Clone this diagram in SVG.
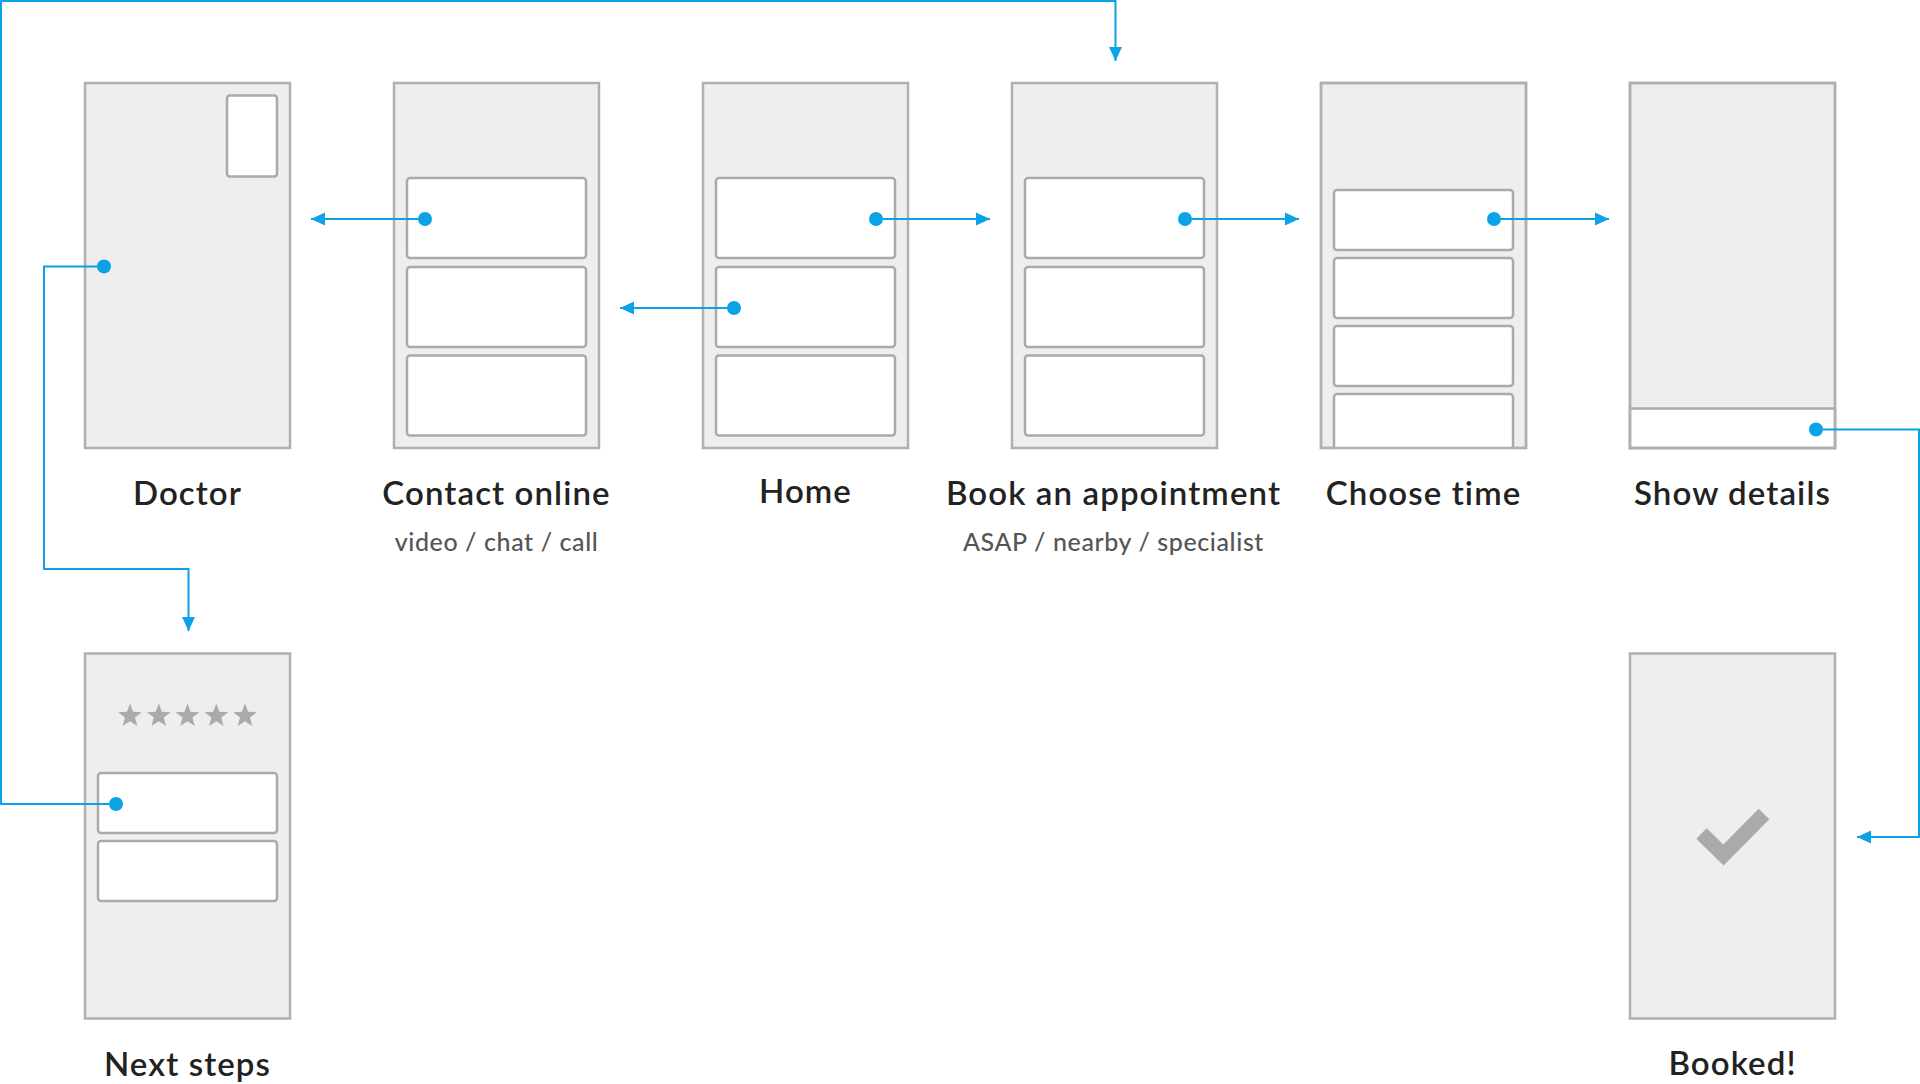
<svg xmlns="http://www.w3.org/2000/svg" width="1920" height="1084" viewBox="0 0 1920 1084">
<style>
.phone{fill:#eeeeee;stroke:#b0b0b0;stroke-width:2.5}
.outline{fill:none;stroke:#b0b0b0;stroke-width:2.5}
.item{fill:#ffffff;stroke:#aaaaaa;stroke-width:2.5}
.title{font-family:Lato,"Liberation Sans",sans-serif;font-size:33px;font-weight:600;letter-spacing:1.1px;fill:#222222;text-anchor:middle}
.sub{font-family:Lato,"Liberation Sans",sans-serif;font-size:25px;font-weight:500;letter-spacing:0.6px;fill:#555555;text-anchor:middle}
.conn{fill:none;stroke:#0ba2e8;stroke-width:2}
.dot{fill:#0ba2e8}
.star{fill:#aaaaaa}
</style>
<defs>
<marker id="arr" markerUnits="userSpaceOnUse" markerWidth="14" markerHeight="14" refX="14" refY="7" orient="auto" viewBox="0 0 14 14">
<path d="M0,0.5 L14,7 L0,13.5 Z" fill="#0ba2e8"/>
</marker>
<polygon id="star" points="0,-12.5 3.06,-4.21 11.89,-3.86 4.95,1.61 7.35,10.11 0,5.2 -7.35,10.11 -4.95,1.61 -11.89,-3.86 -3.06,-4.21"/>
</defs>
<rect width="1920" height="1084" fill="#ffffff"/>

<g id="doctor">
<rect class="phone" x="85" y="83" width="205" height="365"/>
<rect class="item" x="227" y="95.5" width="50" height="81" rx="3"/>
<text class="title" x="187.5" y="505">Doctor</text>
</g>

<g id="contact-online">
<rect class="phone" x="394" y="83" width="205" height="365"/>
<rect class="item" x="407" y="178" width="179" height="80" rx="3"/>
<rect class="item" x="407" y="267" width="179" height="80" rx="3"/>
<rect class="item" x="407" y="355.5" width="179" height="80" rx="3"/>
<text class="title" x="496.5" y="505">Contact online</text>
<text class="sub" x="496.5" y="551">video / chat / call</text>
</g>

<g id="home">
<rect class="phone" x="703" y="83" width="205" height="365"/>
<rect class="item" x="716" y="178" width="179" height="80" rx="3"/>
<rect class="item" x="716" y="267" width="179" height="80" rx="3"/>
<rect class="item" x="716" y="355.5" width="179" height="80" rx="3"/>
<text class="title" x="805.5" y="503">Home</text>
</g>

<g id="book-appointment">
<rect class="phone" x="1012" y="83" width="205" height="365"/>
<rect class="item" x="1025" y="178" width="179" height="80" rx="3"/>
<rect class="item" x="1025" y="267" width="179" height="80" rx="3"/>
<rect class="item" x="1025" y="355.5" width="179" height="80" rx="3"/>
<text class="title" x="1113.5" y="505">Book an appointment</text>
<text class="sub" x="1113.5" y="551">ASAP / nearby / specialist</text>
</g>

<g id="choose-time">
<rect class="phone" x="1321" y="83" width="205" height="365"/>
<rect class="item" x="1334" y="190" width="179" height="60" rx="3"/>
<rect class="item" x="1334" y="258" width="179" height="60" rx="3"/>
<rect class="item" x="1334" y="326" width="179" height="60" rx="3"/>
<rect class="item" x="1334" y="394" width="179" height="58" rx="3"/>
<rect fill="#ffffff" x="1320" y="449.3" width="210" height="6"/>
<rect class="outline" x="1321" y="83" width="205" height="365"/>
<text class="title" x="1423.5" y="505">Choose time</text>
</g>

<g id="show-details">
<rect class="phone" x="1630" y="83" width="205" height="365"/>
<rect class="item" x="1630" y="408.5" width="205" height="39.5"/>
<rect class="outline" x="1630" y="83" width="205" height="365"/>
<text class="title" x="1732.5" y="505">Show details</text>
</g>

<g id="next-steps">
<rect class="phone" x="85" y="653.5" width="205" height="365"/>
<use href="#star" class="star" x="130" y="716"/>
<use href="#star" class="star" x="158.8" y="716"/>
<use href="#star" class="star" x="187.5" y="716"/>
<use href="#star" class="star" x="216.3" y="716"/>
<use href="#star" class="star" x="245" y="716"/>
<rect class="item" x="98" y="773" width="179" height="60" rx="3"/>
<rect class="item" x="98" y="841" width="179" height="60" rx="3"/>
<text class="title" x="187.5" y="1076">Next steps</text>
</g>

<g id="booked">
<rect class="phone" x="1630" y="653.5" width="205" height="365"/>
<polyline points="1701.5,833.5 1723.5,855 1764,814" fill="none" stroke="#aaaaaa" stroke-width="15" stroke-linejoin="miter"/>
<text class="title" x="1732.5" y="1075">Booked!</text>
</g>

<g id="connectors">
<path class="conn" d="M425,219 H311" marker-end="url(#arr)"/>
<path class="conn" d="M876,219 H990" marker-end="url(#arr)"/>
<path class="conn" d="M734,308 H620" marker-end="url(#arr)"/>
<path class="conn" d="M1185,219 H1299" marker-end="url(#arr)"/>
<path class="conn" d="M1494,219 H1609" marker-end="url(#arr)"/>
<path class="conn" d="M104,266.5 H44 V569 H188.5 V631" marker-end="url(#arr)"/>
<path class="conn" d="M116,804 H1 V1 H1115.5 V61" marker-end="url(#arr)"/>
<path class="conn" d="M1816,429.5 H1919 V837 H1857" marker-end="url(#arr)"/>
<circle class="dot" cx="425" cy="219" r="7"/>
<circle class="dot" cx="876" cy="219" r="7"/>
<circle class="dot" cx="734" cy="308" r="7"/>
<circle class="dot" cx="1185" cy="219" r="7"/>
<circle class="dot" cx="1494" cy="219" r="7"/>
<circle class="dot" cx="104" cy="266.5" r="7"/>
<circle class="dot" cx="116" cy="804" r="7"/>
<circle class="dot" cx="1816" cy="429.5" r="7"/>
</g>
</svg>
